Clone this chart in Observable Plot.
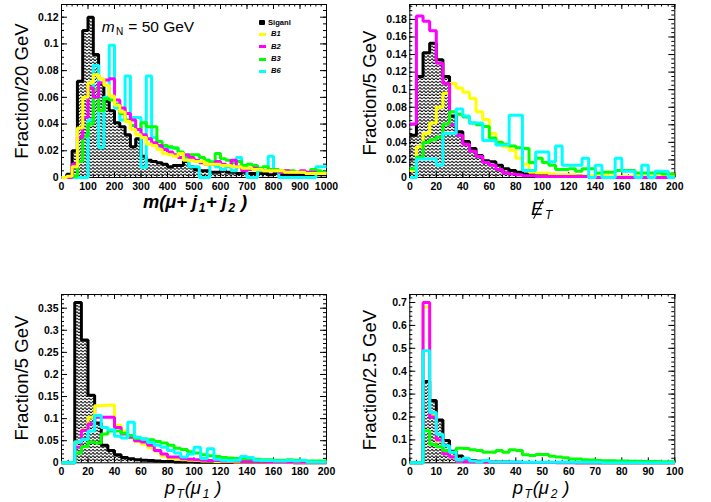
<!DOCTYPE html>
<html>
<head>
<meta charset="utf-8">
<script src="https://cdn.jsdelivr.net/npm/d3@7"></script>
<script src="https://cdn.jsdelivr.net/npm/@observablehq/plot@0.6"></script>
<style>
  body { margin: 0; background: #fff; }
  #root { position: relative; width: 711px; height: 502px; overflow: hidden; background: #fff;
          font-family: "Liberation Sans", Arial, Helvetica, sans-serif; color: #000; }
  .ylab { position: absolute; white-space: nowrap; font-size: 18.6px; line-height: 1;
          transform: translate(-50%, -50%) rotate(-90deg); transform-origin: center; }
  .xlab { position: absolute; white-space: nowrap; line-height: 1.15; transform: translateX(-50%); }
  .xlab .s { font-size: 0.65em; position: relative; top: 0.32em; margin-left: 0.14em; margin-right: 0.06em; }
  .leg { position: absolute; white-space: nowrap; font-size: 7.6px; font-weight: bold; line-height: 1; }
  .sw { position: absolute; }
</style>
</head>
<body>
<div id="root"></div>
<script>
// ---------------- data ----------------
const seriesNames = ["Siganl", "B1", "B2", "B3", "B6"];
const seriesColors = { Siganl: "#000000", B1: "#ffff00", B2: "#ff00ff", B3: "#00ff00", B6: "#00ffff" };

// Panel 1: m(mu+j1+j2), 20 GeV bins, 0-1000
const p1Edges = d3.range(0, 1001, 20);
const p1Signal = [0, 0.0025, 0.02, 0.072, 0.11, 0.12, 0.092, 0.07, 0.057, 0.05,
  0.041, 0.038, 0.032, 0.023, 0.029, 0.016, 0.013, 0.012, 0.011, 0.01,
  0.008, 0.009, 0.009, 0.012, 0.008, 0.006, 0.005, 0.005, 0.004, 0.004,
  0.005, 0.004, 0.004, 0.003, 0.004, 0.003, 0.003, 0.003, 0.003, 0.002,
  0.003, 0.002, 0.002, 0.002, 0.002, 0.002, 0.002, 0.002, 0.002, 0.002];
const p1B1 = [0, 0.001, 0.008, 0.037, 0.06, 0.071, 0.077, 0.074, 0.069, 0.061,
  0.054, 0.049, 0.042, 0.036, 0.032, 0.03, 0.025, 0.024, 0.021, 0.018,
  0.017, 0.016, 0.018, 0.013, 0.013, 0.012, 0.012, 0.01, 0.01, 0.01,
  0.009, 0.009, 0.008, 0.008, 0.007, 0.007, 0.006, 0.006, 0.005, 0.005,
  0.005, 0.005, 0.004, 0.004, 0.004, 0.004, 0.003, 0.003, 0.003, 0.003];
const p1B2 = [0, 0, 0.01, 0.03, 0.045, 0.067, 0.06, 0.071, 0.073, 0.074,
  0.058, 0.052, 0.048, 0.043, 0.036, 0.032, 0.029, 0.026, 0.024, 0.021,
  0.019, 0.017, 0.015, 0.017, 0.015, 0.013, 0.011, 0.01, 0.01, 0.012,
  0.01, 0.009, 0.013, 0.008, 0.005, 0.006, 0.007, 0.006, 0.005, 0.005,
  0.005, 0.004, 0.005, 0.004, 0.004, 0.005, 0.004, 0.004, 0.003, 0.003];
const p1B3 = [0, 0, 0.001, 0.012, 0.031, 0.04, 0.066, 0.05, 0.059, 0.058,
  0.055, 0.048, 0.043, 0.039, 0.036, 0.041, 0.038, 0.038, 0.027, 0.024,
  0.023, 0.022, 0.019, 0.016, 0.017, 0.017, 0.015, 0.013, 0.011, 0.018,
  0.014, 0.013, 0.011, 0.012, 0.009, 0.01, 0.009, 0.007, 0.008, 0.006,
  0.006, 0.005, 0.005, 0.005, 0.004, 0.004, 0.004, 0.006, 0.005, 0.004];
const p1B6 = [0, 0, 0, 0, 0, 0.043, 0.084, 0.0225, 0.06, 0.099,
  0.052, 0.043, 0.076, 0.045, 0.045, 0.0075, 0.076, 0.03, 0.023, 0.022,
  0.022, 0.022, 0.015, 0.015, 0.008, 0.008, 0, 0, 0.012, 0.008,
  0.006, 0.008, 0.005, 0.015, 0.008, 0, 0, 0.005, 0.005, 0.016,
  0.005, 0, 0, 0, 0, 0, 0, 0, 0.008, 0.008];

// Panel 2: missing ET, 5 GeV bins, 0-200
const p2Edges = d3.range(0, 201, 5);
const p2Signal = [0.048, 0.115, 0.142, 0.153, 0.134, 0.115, 0.07, 0.052, 0.041, 0.033,
  0.025, 0.019, 0.018, 0.014, 0.01, 0.008, 0.006, 0.004, 0.004, 0.004,
  0.003, 0.003, 0.002, 0.002, 0.002, 0.002, 0.001, 0.001, 0.001, 0.001,
  0.001, 0.001, 0.001, 0.001, 0.001, 0.001, 0.001, 0.001, 0.001, 0.001];
const p2B1 = [0.008, 0.035, 0.05, 0.062, 0.08, 0.096, 0.107, 0.102, 0.097, 0.09,
  0.075, 0.066, 0.05, 0.04, 0.035, 0.031, 0.022, 0.015, 0.006, 0.005,
  0.005, 0.004, 0.003, 0.003, 0.003, 0.002, 0.002, 0.002, 0.002, 0.002,
  0.001, 0.001, 0.001, 0.001, 0.001, 0.001, 0.001, 0.001, 0.001, 0.001];
const p2B2 = [0.061, 0.184, 0.178, 0.167, 0.13, 0.107, 0.06, 0.048, 0.038, 0.03,
  0.024, 0.017, 0.014, 0.009, 0.005, 0.004, 0.003, 0.002, 0.002, 0.001,
  0.001, 0.001, 0.001, 0.001, 0.001, 0.001, 0.001, 0, 0, 0,
  0, 0, 0, 0, 0, 0, 0, 0, 0, 0];
const p2B3 = [0.01, 0.023, 0.04, 0.043, 0.046, 0.061, 0.075, 0.072, 0.069, 0.062,
  0.06, 0.058, 0.045, 0.04, 0.038, 0.036, 0.034, 0.033, 0.017, 0.022,
  0.017, 0.014, 0.009, 0.009, 0.01, 0.007, 0.01, 0.01, 0.005, 0.006,
  0.006, 0.008, 0.008, 0.008, 0.005, 0.005, 0.005, 0.005, 0.004, 0.004];
const p2B6 = [0, 0.021, 0.021, 0.021, 0.014, 0.05, 0.05, 0.078, 0.07, 0.062,
  0.062, 0.042, 0.042, 0.037, 0.037, 0.071, 0.071, 0.008, 0.008, 0.029,
  0.029, 0.018, 0.036, 0.014, 0.014, 0.014, 0.022, 0, 0.014, 0,
  0, 0.022, 0.007, 0.007, 0, 0.014, 0, 0.007, 0.007, 0];

// Panel 3: pT(mu1), 5 GeV bins, 0-200
const p3Edges = d3.range(0, 201, 5);
const p3Signal = [0, 0, 0.363, 0.278, 0.153, 0.09, 0.04, 0.028, 0.018, 0.012,
  0.009, 0.007, 0.006, 0.005, 0.004, 0.003, 0.003, 0.002, 0.002, 0.002,
  0.001, 0.001, 0.001, 0.001, 0.001, 0.001, 0.001, 0.001, 0.001, 0.001,
  0.001, 0.001, 0.001, 0.001, 0.001, 0, 0, 0, 0, 0];
const p3B1 = [0, 0, 0.047, 0.075, 0.103, 0.129, 0.13, 0.131, 0.085, 0.072,
  0.058, 0.048, 0.042, 0.034, 0.026, 0.015, 0.01, 0.008, 0.007, 0.006,
  0.005, 0.004, 0.004, 0.003, 0.003, 0.003, 0.002, 0.002, 0.002, 0.002,
  0.002, 0.001, 0.001, 0.001, 0.001, 0.001, 0.001, 0.001, 0.001, 0.001];
const p3B2 = [0, 0, 0.035, 0.073, 0.088, 0.103, 0.103, 0.103, 0.08, 0.065,
  0.058, 0.05, 0.047, 0.04, 0.028, 0.02, 0.013, 0.013, 0.009, 0.008,
  0.007, 0.006, 0.005, 0.005, 0.004, 0.004, 0.004, 0.003, 0.003, 0.003,
  0.003, 0.002, 0.002, 0.002, 0.002, 0.002, 0.002, 0.002, 0.002, 0.002];
const p3B3 = [0, 0, 0.022, 0.037, 0.047, 0.045, 0.065, 0.072, 0.072, 0.067,
  0.062, 0.055, 0.054, 0.052, 0.048, 0.045, 0.04, 0.033, 0.03, 0.025,
  0.022, 0.018, 0.016, 0.014, 0.012, 0.011, 0.01, 0.009, 0.009, 0.008,
  0.007, 0.007, 0.006, 0.006, 0.007, 0.006, 0.005, 0.004, 0.004, 0.004];
const p3B6 = [0, 0, 0.047, 0.053, 0.072, 0.107, 0.08, 0.075, 0.06, 0.056,
  0.092, 0.058, 0.054, 0.046, 0.04, 0.035, 0.028, 0.022, 0.013, 0.02,
  0.035, 0.01, 0.032, 0.008, 0.006, 0.005, 0.006, 0.014, 0.012, 0.006,
  0.005, 0.005, 0.004, 0.004, 0.005, 0.004, 0.006, 0.002, 0.002, 0.002];

// Panel 4: pT(mu2), 2.5 GeV bins, 0-100
const p4Edges = d3.range(0, 100.01, 2.5);
const p4Signal = [0, 0, 0.355, 0.272, 0.187, 0.097, 0.05, 0.03, 0.017, 0.01,
  0.007, 0.005, 0.004, 0.003, 0.003, 0.002, 0.002, 0.001, 0.001, 0.001,
  0.001, 0.001, 0.001, 0.001, 0.001, 0, 0, 0, 0, 0,
  0, 0, 0, 0, 0, 0, 0, 0, 0, 0];
const p4B1 = [0, 0, 0.68, 0.205, 0.095, 0.04, 0.025, 0.007, 0.005, 0.004,
  0.003, 0.003, 0.002, 0.002, 0.002, 0.001, 0.001, 0.001, 0.001, 0.001,
  0.001, 0.001, 0, 0, 0, 0, 0, 0, 0, 0,
  0, 0, 0, 0, 0, 0, 0, 0, 0, 0];
const p4B2 = [0, 0, 0.70, 0.2, 0.1, 0.04, 0.025, 0.007, 0.005, 0.004,
  0.003, 0.003, 0.002, 0.002, 0.002, 0.001, 0.001, 0.001, 0.001, 0.001,
  0.001, 0.001, 0, 0, 0, 0, 0, 0, 0, 0,
  0, 0, 0, 0, 0, 0, 0, 0, 0, 0];
const p4B3 = [0, 0, 0.14, 0.08, 0.07, 0.054, 0.046, 0.064, 0.062, 0.057,
  0.054, 0.046, 0.046, 0.054, 0.046, 0.057, 0.054, 0.035, 0.032, 0.036,
  0.036, 0.029, 0.025, 0.022, 0.017, 0.017, 0.013, 0.012, 0.01, 0.009,
  0.009, 0.008, 0.008, 0.007, 0.007, 0.006, 0.006, 0.006, 0.005, 0.005];
const p4B6 = [0, 0, 0.489, 0.22, 0.125, 0.075, 0.046, 0.012, 0.02, 0.008,
  0.004, 0.01, 0.004, 0.003, 0.003, 0.003, 0.003, 0.002, 0.002, 0.002,
  0.002, 0.002, 0.002, 0.002, 0.002, 0.002, 0.002, 0.002, 0.002, 0,
  0, 0, 0, 0, 0, 0, 0, 0, 0, 0];

// tick labels
const p1XTicks = [0, 100, 200, 300, 400, 500, 600, 700, 800, 900, 1000];
const p1YTicks = [0, 0.02, 0.04, 0.06, 0.08, 0.1, 0.12];
const p2XTicks = [0, 20, 40, 60, 80, 100, 120, 140, 160, 180, 200];
const p2YTicks = [0, 0.02, 0.04, 0.06, 0.08, 0.1, 0.12, 0.14, 0.16, 0.18];
const p3XTicks = [0, 20, 40, 60, 80, 100, 120, 140, 160, 180, 200];
const p3YTicks = [0, 0.05, 0.1, 0.15, 0.2, 0.25, 0.3, 0.35];
const p4XTicks = [0, 10, 20, 30, 40, 50, 60, 70, 80, 90, 100];
const p4YTicks = [0, 0.1, 0.2, 0.3, 0.4, 0.5, 0.6, 0.7];

// ---------------- drawing ----------------
const root = document.getElementById("root");

function pts(edges, vals) {
  return edges.map((e, i) => ({ x: e, y: vals[Math.min(i, vals.length - 1)] }));
}

function hatchDefs(id) {
  return () => {
    const defs = d3.create("svg:defs");
    const p = defs.append("pattern").attr("id", id).attr("patternUnits", "userSpaceOnUse")
      .attr("width", 4).attr("height", 3.2);
    p.append("rect").attr("width", 4).attr("height", 3.2).attr("fill", "#fff");
    p.append("path").attr("d", "M0,2.1 Q1,0.5 2,2.1 T4,2.1")
      .attr("fill", "none").attr("stroke", "#000").attr("stroke-width", 1);
    return defs.node();
  };
}

function panel(c) {
  const H = c.height - c.mt - c.mb, W = c.width - c.ml - c.mr;
  const sig = pts(c.edges, c.series.Siganl);
  const lineOpts = { x: "x", y: "y", curve: "step-after", strokeWidth: 3,
                     strokeLinejoin: "miter", strokeLinecap: "butt" };
  const marks = [
    hatchDefs(c.id),
    Plot.areaY(sig, { x: "x", y: "y", curve: "step-after", fill: `url(#${c.id})` }),
    Plot.frame({ stroke: "#000", strokeWidth: 1 }),
    // inward ticks on all four sides
    Plot.ruleX(c.xMinor, { insetTop: H - 2.5, stroke: "#000" }),
    Plot.ruleX(c.xMinor, { insetBottom: H - 2.5, stroke: "#000" }),
    Plot.ruleX(c.xTicks, { insetTop: H - 5, stroke: "#000" }),
    Plot.ruleX(c.xTicks, { insetBottom: H - 5, stroke: "#000" }),
    Plot.ruleY(c.yMinor, { insetRight: W - 3, stroke: "#000" }),
    Plot.ruleY(c.yMinor, { insetLeft: W - 3, stroke: "#000" }),
    Plot.ruleY(c.yTicks, { insetRight: W - 6, stroke: "#000" }),
    Plot.ruleY(c.yTicks, { insetLeft: W - 6, stroke: "#000" })
  ];
  for (const k of c.order) {
    const data = k === "Siganl" ? sig : pts(c.edges, c.series[k]);
    marks.push(Plot.lineY(data, { ...lineOpts, stroke: seriesColors[k] }));
  }
  marks.push(Plot.axisX(c.xTicks, { tickSize: 0, tickPadding: 5, tickFormat: d => String(d), label: null }));
  marks.push(Plot.axisY(c.yTicks, { tickSize: 0, tickPadding: 3, tickFormat: d => String(d), label: null }));
  const svg = Plot.plot({
    width: c.width, height: c.height,
    marginLeft: c.ml, marginRight: c.mr, marginTop: c.mt, marginBottom: c.mb,
    x: { domain: c.xDomain, label: null },
    y: { domain: c.yDomain, label: null },
    style: { fontFamily: "'Liberation Sans', Arial, sans-serif", fontSize: "10.5px",
             fontWeight: "bold", color: "#000", background: "transparent", overflow: "visible" },
    marks
  });
  svg.style.position = "absolute";
  svg.style.left = c.left + "px";
  svg.style.top = c.top + "px";
  root.appendChild(svg);
}

panel({ id: "hatch1", left: 0, top: 0, width: 355, height: 235, ml: 61, mr: 29, mt: 4, mb: 58,
  xDomain: [0, 1000], yDomain: [0, 0.1295], edges: p1Edges,
  xTicks: p1XTicks, xMinor: d3.range(0, 1001, 20), yTicks: p1YTicks, yMinor: d3.range(0, 0.1295, 0.005),
  series: { Siganl: p1Signal, B1: p1B1, B2: p1B2, B3: p1B3, B6: p1B6 },
  order: ["Siganl", "B6", "B3", "B2", "B1"] });
panel({ id: "hatch2", left: 355, top: 0, width: 356, height: 235, ml: 54.3, mr: 36.7, mt: 4, mb: 58,
  xDomain: [0, 200], yDomain: [0, 0.197], edges: p2Edges,
  xTicks: p2XTicks, xMinor: d3.range(0, 201, 5), yTicks: p2YTicks, yMinor: d3.range(0, 0.197, 0.005),
  series: { Siganl: p2Signal, B1: p2B1, B2: p2B2, B3: p2B3, B6: p2B6 },
  order: ["Siganl", "B1", "B2", "B3", "B6"] });
panel({ id: "hatch3", left: 0, top: 285, width: 355, height: 217, ml: 61, mr: 29, mt: 9, mb: 39.7,
  xDomain: [0, 200], yDomain: [0, 0.381], edges: p3Edges,
  xTicks: p3XTicks, xMinor: d3.range(0, 201, 5), yTicks: p3YTicks, yMinor: d3.range(0, 0.381, 0.01),
  series: { Siganl: p3Signal, B1: p3B1, B2: p3B2, B3: p3B3, B6: p3B6 },
  order: ["Siganl", "B1", "B2", "B3", "B6"] });
panel({ id: "hatch4", left: 355, top: 285, width: 356, height: 217, ml: 54.3, mr: 36.7, mt: 9, mb: 39.7,
  xDomain: [0, 100], yDomain: [0, 0.735], edges: p4Edges,
  xTicks: p4XTicks, xMinor: d3.range(0, 100.01, 2.5), yTicks: p4YTicks, yMinor: d3.range(0, 0.735, 0.02),
  series: { Siganl: p4Signal, B1: p4B1, B2: p4B2, B3: p4B3, B6: p4B6 },
  order: ["Siganl", "B1", "B2", "B3", "B6"] });

// ---------------- text overlays ----------------
function addDiv(cls, html, style) {
  const d = document.createElement("div");
  d.className = cls;
  d.innerHTML = html;
  Object.assign(d.style, style);
  root.appendChild(d);
  return d;
}
// y titles
addDiv("ylab", "Fraction/20 GeV", { left: "22px", top: "91px" });
addDiv("ylab", "Fraction/5 GeV", { left: "370px", top: "93px" });
addDiv("ylab", "Fraction/5 GeV", { left: "22px", top: "378px" });
addDiv("ylab", "Fraction/2.5 GeV", { left: "370px", top: "380px" });
// x titles
addDiv("xlab", "m(&mu;+ j<span class='s'>1</span>+ j<span class='s'>2</span> )",
  { left: "195px", top: "196.4px", lineHeight: "0.7", fontSize: "18.3px", fontWeight: "bold", fontStyle: "italic" });
addDiv("xlab", "E<span class='s'>T</span>",
  { left: "542px", top: "198px", fontSize: "18.5px", fontStyle: "italic" });
// slash through the E (missing transverse energy)
addDiv("sw", "", { left: "538px", top: "198px", width: "1.4px", height: "22px", background: "#000",
  transform: "rotate(27deg)" });
addDiv("xlab", "p<span class='s'>T</span>(&mu;<span class='s'>1</span> )",
  { left: "193px", top: "477px", fontSize: "18.5px", fontStyle: "italic" });
addDiv("xlab", "p<span class='s'>T</span>(&mu;<span class='s'>2</span> )",
  { left: "541px", top: "477px", fontSize: "18.5px", fontStyle: "italic" });
// annotation
addDiv("xlab", "<i>m</i><span class='s'>N</span> = 50 GeV",
  { left: "148px", top: "18px", fontSize: "15.5px" });

// legend
const legRowY = [22.7, 34.3, 46.7, 59, 71];
seriesNames.forEach((name, i) => {
  const y = legRowY[i];
  if (name === "Siganl") {
    addDiv("sw", "", { left: "259px", top: (y - 3) + "px", width: "6px", height: "5px",
      background: "#000", borderRadius: "1px" });
    addDiv("leg", name, { left: "268px", top: (y - 4) + "px" });
  } else {
    addDiv("sw", "", { left: "259px", top: (y - 1.5) + "px", width: "7px", height: "3px",
      background: seriesColors[name] });
    addDiv("leg", name, { left: "271px", top: (y - 4) + "px", fontStyle: "italic" });
  }
});
</script>
</body>
</html>
